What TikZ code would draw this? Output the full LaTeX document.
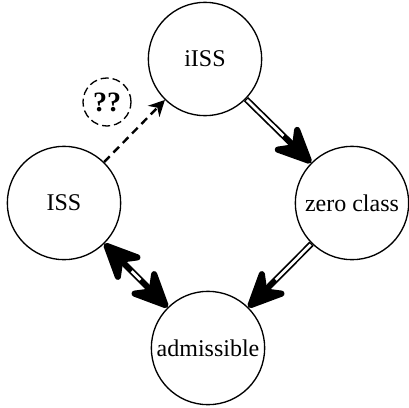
\documentclass[tikz,border=0pt]{standalone}
\usepackage{fontspec}
\setmainfont{Liberation Serif}
\usetikzlibrary{arrows.meta}
\begin{document}
\begin{tikzpicture}[x=0.75pt,y=-0.75pt,
  state/.style={circle,draw,line width=1pt,minimum size=85pt,inner sep=0pt,font=\fontsize{18}{21}\selectfont},
  tipend/.style={-{Stealth[length=35pt,width=32pt,inset=12pt,round]}},
  tipboth/.style={{Stealth[length=35pt,width=32pt,inset=12pt,round]}-{Stealth[length=35pt,width=32pt,inset=12pt,round]}},
  outerline/.style={line width=4.6pt},
  innerline/.style={white,line width=2pt,line cap=butt}]
\useasboundingbox (0,0) rectangle (409,407);
\node[state] (iiss) at (205,59) {iISS};
\node[state] (zero) at (352,203) {zero class};
\node[state] (iss) at (64,203) {ISS};
\node[state] (adm) at (208,348) {admissible};
\node[circle,draw,line width=1pt,dash pattern=on 6pt off 3pt,minimum size=36pt,inner sep=0pt,font=\fontsize{21}{23}\selectfont\bfseries] (q) at (107,102) {??};
\draw[outerline,tipend] (iiss) -- (zero);
\draw[innerline,shorten >=29pt,shorten <=1pt] (iiss) -- (zero);
\draw[outerline,tipend] (zero) -- (adm);
\draw[innerline,shorten >=29pt,shorten <=1pt] (zero) -- (adm);
\draw[outerline,tipboth] (iss) -- (adm);
\draw[innerline,shorten >=29pt,shorten <=29pt] (iss) -- (adm);
\draw[line width=1.8pt,dash pattern=on 6pt off 4pt,-{Stealth[length=12pt,width=12pt]}] (iss) -- (iiss);
\end{tikzpicture}
\end{document}
